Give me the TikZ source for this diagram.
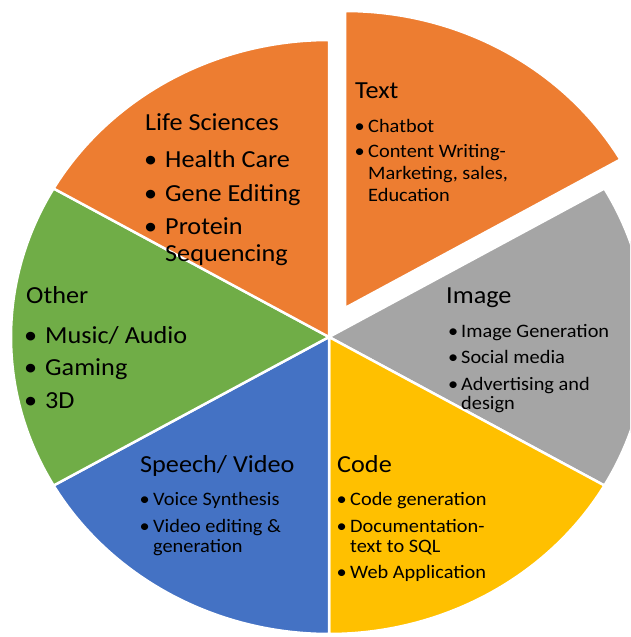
\documentclass[tikz,border=0pt]{standalone}
\usepackage{fontspec}
\setmainfont[FakeStretch=1.07]{Carlito}
\usetikzlibrary{calc}
\definecolor{sorange}{HTML}{ED7D31}
\definecolor{sgray}{HTML}{A5A5A5}
\definecolor{sgold}{HTML}{FFC000}
\definecolor{sblue}{HTML}{4472C4}
\definecolor{sgreen}{HTML}{70AD47}
\tikzset{
  slice/.style={draw=white, line width=2.5pt, line join=round},
  ttl/.style={anchor=base west, inner sep=0pt, text=black, font=\fontsize{24.5}{29}\selectfont},
  big/.style={anchor=base west, inner sep=0pt, text=black, font=\fontsize{24.5}{29}\selectfont},
  small/.style={anchor=base west, inner sep=0pt, text=black, font=\fontsize{19}{22}\selectfont},
}
\newcommand\bl[1]{\llap{\makebox[0pt][c]{\textbullet}\hspace{#1}}}
\begin{document}
\begin{tikzpicture}[x=1pt,y=-1pt]
\useasboundingbox (0,0) rectangle (630,637);
\clip (0,0) rectangle (630,637);
\coordinate (C) at (329,337);
\coordinate (T) at (345,308);
% slices
\filldraw[fill=sgray, slice] (C) -- ++(-30:318 and 297) arc[start angle=-30, end angle=30, x radius=318, y radius=297] -- cycle;
\filldraw[fill=sgold, slice] (C) -- ++(30:318 and 297) arc[start angle=30, end angle=90, x radius=318, y radius=297] -- cycle;
\filldraw[fill=sblue, slice] (C) -- ++(90:318 and 297) arc[start angle=90, end angle=150, x radius=318, y radius=297] -- cycle;
\filldraw[fill=sgreen, slice] (C) -- ++(150:318 and 297) arc[start angle=150, end angle=210, x radius=318, y radius=297] -- cycle;
\filldraw[fill=sorange, slice] (C) -- ++(210:318 and 297) arc[start angle=210, end angle=270, x radius=318, y radius=297] -- cycle;
\filldraw[fill=sorange, slice] (T) -- ++(-90:318 and 297) arc[start angle=-90, end angle=-30, x radius=318, y radius=297] -- cycle;
% Life Sciences
\node[ttl] (lsT) at (145,130) {Life Sciences};
\node[big] (ls1) at (165,167.5) {\bl{14.5pt}Health Care};
\node[big] (ls2) at (165,201.5) {\bl{14.5pt}Gene Editing};
\node[big] (ls3) at (165,234) {\bl{14.5pt}Protein};
\node[big] (ls4) at (165,261) {Sequencing};
% Other
\node[ttl] (otT) at (26,303) {Other};
\node[big] (ot1) at (45,343) {\bl{14.5pt}Music/ Audio};
\node[big] (ot2) at (45,375) {\bl{14.5pt}Gaming};
\node[big] (ot3) at (45,408) {\bl{14.5pt}3D};
% Text
\node[ttl] (txT) at (355,98) {Text};
\node[small] (tx1) at (368,132) {\bl{8.5pt}Chatbot};
\node[small] (tx2) at (368,157) {\bl{8.5pt}Content Writing-};
\node[small] (tx3) at (368,179) {Marketing, sales,};
\node[small] (tx4) at (368,201) {Education};
% Image
\node[ttl] (imT) at (446,303) {Image};
\node[small] (im1) at (461,337) {\bl{8pt}Image Generation};
\node[small] (im2) at (461,363) {\bl{8pt}Social media};
\node[small] (im3) at (461,390) {\bl{8pt}Advertising and};
\node[small] (im4) at (461,409) {design};
% Code
\node[ttl] (cdT) at (337,472) {Code};
\node[small] (cd1) at (350,505) {\bl{8.5pt}Code generation};
\node[small] (cd2) at (350,532) {\bl{8.5pt}Documentation-};
\node[small] (cd3) at (350,552) {text to SQL};
\node[small] (cd4) at (350,578) {\bl{8.5pt}Web Application};
% Speech/Video
\node[ttl] (spT) at (140,472) {Speech/ Video};
\node[small] (sp1) at (153,505) {\bl{8.5pt}Voice Synthesis};
\node[small] (sp2) at (153,532) {\bl{8.5pt}Video editing \&};
\node[small] (sp3) at (153,552) {generation};
\end{tikzpicture}
\end{document}
